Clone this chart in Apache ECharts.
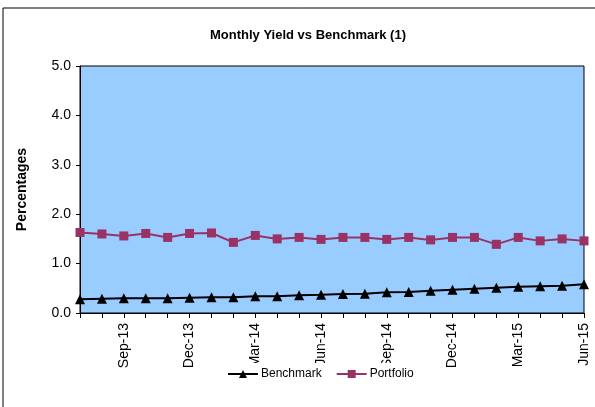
<!DOCTYPE html>
<html><head><meta charset="utf-8">
<script src="https://cdn.jsdelivr.net/npm/echarts@6/dist/echarts.min.js"></script>
<style>html,body{margin:0;padding:0;background:#fff}#c{width:595px;height:407px}</style>
</head><body><div id="c"></div>
<script>
const months = ['Jul-13','Aug-13','Sep-13','Oct-13','Nov-13','Dec-13','Jan-14','Feb-14','Mar-14','Apr-14','May-14','Jun-14','Jul-14','Aug-14','Sep-14','Oct-14','Nov-14','Dec-14','Jan-15','Feb-15','Mar-15','Apr-15','May-15','Jun-15'];
const benchmark = [0.28,0.29,0.30,0.30,0.30,0.31,0.32,0.32,0.34,0.34,0.36,0.37,0.385,0.39,0.42,0.425,0.45,0.47,0.49,0.51,0.53,0.54,0.55,0.58];
const portfolio = [1.63,1.60,1.56,1.61,1.53,1.61,1.62,1.43,1.57,1.50,1.53,1.49,1.53,1.53,1.49,1.53,1.48,1.53,1.53,1.39,1.53,1.46,1.50,1.46];
const yTicks = [0,1,2,3,4,5];

const chart = echarts.init(document.getElementById('c'), null, {renderer:'canvas'});
chart.setOption({
  animation:false,
  backgroundColor:'#fff',
  graphic:[{type:'rect',shape:{x:3,y:8,width:600,height:410},style:{fill:'none',stroke:'#000',lineWidth:1},z:-1}],
  title:{text:'Monthly Yield vs Benchmark (1)',left:303,textAlign:'center',top:24,
    textStyle:{fontFamily:'Liberation Sans, Arial',fontSize:13,fontWeight:'bold',color:'#000'}},
  grid:{left:80,right:11,top:66,bottom:94,show:true,backgroundColor:'#99CCFF',borderColor:'#000',borderWidth:1},
  legend:{data:['Benchmark','Portfolio'],left:222,top:363,itemWidth:30,itemHeight:10,itemGap:14,
    padding:[5,5,6,5],backgroundColor:'#fff',
    textStyle:{fontFamily:'Liberation Sans, Arial',fontSize:12,color:'#000',padding:[0,0,0,-2]}},
  xAxis:{type:'category',data:months,boundaryGap:false,
    axisLine:{lineStyle:{color:'#000'}},
    axisTick:{show:true,interval:0,length:5,lineStyle:{color:'#000'}},
    axisLabel:{interval:function(i){return i%3===2;},rotate:90,color:'#000',fontFamily:'Liberation Sans, Arial',fontSize:14,margin:10},
    splitLine:{show:false}},
  yAxis:{type:'value',min:yTicks[0],max:yTicks[yTicks.length-1],interval:1,
    name:'Percentages',nameLocation:'middle',nameGap:51,
    nameTextStyle:{fontFamily:'Liberation Sans, Arial',fontSize:14,fontWeight:'bold',color:'#000'},
    axisLine:{show:true,lineStyle:{color:'#000'}},
    axisTick:{show:true,length:4,lineStyle:{color:'#000'}},
    axisLabel:{formatter:v=>v.toFixed(1),color:'#000',fontFamily:'Liberation Sans, Arial',fontSize:14,margin:9},
    splitLine:{show:false}},
  series:[
    {name:'Benchmark',type:'line',data:benchmark,symbol:'triangle',symbolSize:10,
      itemStyle:{color:'#000'},lineStyle:{color:'#000',width:2}},
    {name:'Portfolio',type:'line',data:portfolio,symbol:'rect',symbolSize:9,
      itemStyle:{color:'#993366'},lineStyle:{color:'#993366',width:2}}
  ]
});
</script></body></html>
